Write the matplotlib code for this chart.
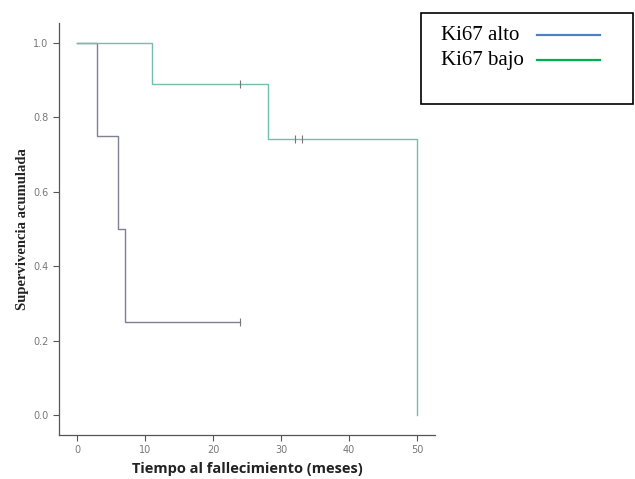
import matplotlib
matplotlib.use("Agg")
import matplotlib.pyplot as plt
from matplotlib.lines import Line2D

# Kaplan-Meier step data
alto_t = [0, 3, 6, 7, 24]
alto_s = [1.0, 0.75, 0.5, 0.25, 0.25]
alto_cens_t = [24]
alto_cens_s = [0.25]

bajo_t = [0, 11, 28, 50]
bajo_s = [1.0, 0.889, 0.741, 0.0]
bajo_cens_t = [24, 32, 33]
bajo_cens_s = [0.889, 0.741, 0.741]

legend_labels = ["Ki67 alto", "Ki67 bajo"]
xticks = [0, 10, 20, 30, 40, 50]
yticks = [0.0, 0.2, 0.4, 0.6, 0.8, 1.0]

fig = plt.figure(figsize=(6.35, 4.79), dpi=100)
ax = fig.add_axes([0.0929, 0.0919, 0.592, 0.86])

c_alto = "#7f7f96"
c_bajo = "#72bfae"

ax.step(alto_t, alto_s, where="post", color=c_alto, lw=1.0)
ax.step(bajo_t, bajo_s, where="post", color=c_bajo, lw=1.0)
ax.plot(alto_cens_t, alto_cens_s, ls="none", marker="|", ms=6, color="#777777", mew=0.8)
ax.plot(bajo_cens_t, bajo_cens_s, ls="none", marker="|", ms=6, color="#777777", mew=0.8)

ax.set_xlim(-2.65, 52.6)
ax.set_ylim(-0.054, 1.054)
ax.set_xticks(xticks)
ax.set_yticks(yticks)
ax.set_xticklabels([str(x) for x in xticks])
ax.set_yticklabels([f"{y:.1f}" for y in yticks])
for s in ["top", "right"]:
    ax.spines[s].set_visible(False)
for s in ["left", "bottom"]:
    ax.spines[s].set_color("#555555")
    ax.spines[s].set_linewidth(0.9)
ax.tick_params(direction="out", length=4, width=0.8, color="#555555",
               labelsize=7, labelcolor="#777777")

ax.set_ylabel("Supervivencia acumulada", family="Liberation Serif",
              fontweight="bold", fontsize=10.5, color="#222222", labelpad=3)
ax.set_xlabel("Tiempo al fallecimiento (meses)", family="Open Sans",
              fontweight="bold", fontsize=10.5, color="#222222", labelpad=5)

# Legend box drawn in figure coordinates
W, H = 635, 479
box = plt.Rectangle((421 / W, 1 - 104 / H), (633 - 421) / W, (104 - 13) / H,
                    transform=fig.transFigure, fill=False, edgecolor="black", lw=1.2)
fig.add_artist(box)
leg_colors = ["#4f81bd", "#00b050"]
leg_y = [35, 60]
for lab, col, yy in zip(legend_labels, leg_colors, leg_y):
    fig.text(441 / W, 1 - (yy + 1) / H, lab, family="Liberation Serif", fontsize=15,
             va="center", ha="left", color="black")
    fig.add_artist(Line2D([537 / W, 600 / W], [1 - yy / H, 1 - yy / H],
                          transform=fig.transFigure, color=col, lw=1.6))

fig.savefig("out.png", dpi=100)
